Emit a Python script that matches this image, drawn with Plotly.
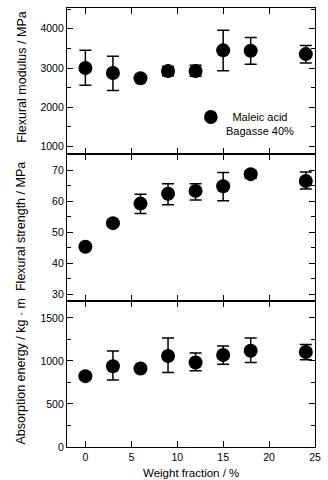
import plotly.graph_objects as go
from plotly.subplots import make_subplots

# Data
weight_fraction = [0, 3, 6, 9, 12, 15, 18, 24]

modulus = [3000, 2875, 2740, 2925, 2925, 3450, 3440, 3355]
modulus_hi = [3450, 3300, 2790, 3040, 3070, 3965, 3780, 3575]
modulus_lo = [2560, 2425, 2690, 2805, 2790, 2930, 3095, 3125]

strength = [45.4, 53.0, 59.3, 62.5, 63.4, 64.9, 68.8, 66.6]
strength_hi = [46.0, 53.8, 62.3, 65.7, 65.7, 69.3, 69.9, 69.5]
strength_lo = [44.8, 52.2, 56.1, 58.9, 60.5, 60.2, 67.5, 64.0]

energy = [823, 938, 912, 1058, 981, 1069, 1119, 1104]
energy_hi = [850, 1115, 940, 1265, 1092, 1173, 1265, 1192]
energy_lo = [795, 777, 885, 865, 885, 962, 981, 1015]

x_ticks = [0, 5, 10, 15, 20, 25]

FONT = "Liberation Sans, Arial, sans-serif"

fig = make_subplots(rows=3, cols=1, shared_xaxes=True, vertical_spacing=0)

def add(vals, hi, lo, row):
    fig.add_trace(go.Scatter(
        x=weight_fraction, y=vals, mode="markers",
        marker=dict(color="black", size=14),
        error_y=dict(type="data", symmetric=False,
                     array=[h - v for h, v in zip(hi, vals)],
                     arrayminus=[v - l for v, l in zip(vals, lo)],
                     color="black", thickness=1.5, width=6),
        showlegend=False, cliponaxis=False), row=row, col=1)

add(modulus, modulus_hi, modulus_lo, 1)
add(strength, strength_hi, strength_lo, 2)
add(energy, energy_hi, energy_lo, 3)

axis_common = dict(showline=True, linecolor="black", linewidth=1.3, mirror="allticks",
                   ticks="inside", ticklen=6, tickwidth=1.3, tickcolor="black",
                   showgrid=False, zeroline=False, ticklabeloverflow="allow",
                   tickfont=dict(family=FONT, size=10.5, color="black"))

for r in (1, 2, 3):
    fig.update_xaxes(range=[-2, 25], tickvals=x_ticks, row=r, col=1, **axis_common)

fig.update_yaxes(range=[800, 4530], dtick=1000, tick0=0,
                 minor=dict(dtick=500, ticks="inside", ticklen=3.5, tickcolor="black", tickwidth=1.2),
                 row=1, col=1, **axis_common)
fig.update_yaxes(range=[28, 75.2], dtick=10, tick0=0,
                 minor=dict(dtick=5, ticks="inside", ticklen=3.5, tickcolor="black", tickwidth=1.2),
                 row=2, col=1, **axis_common)
fig.update_yaxes(range=[0, 1700], dtick=500, tick0=0,
                 minor=dict(dtick=250, ticks="inside", ticklen=3.5, tickcolor="black", tickwidth=1.2),
                 row=3, col=1, **axis_common)

# x-axis title
fig.add_annotation(text="Weight fraction / %", xref="x3 domain", yref="paper",
                   x=0.5, y=-0.059, xanchor="center", yanchor="middle", showarrow=False,
                   font=dict(family=FONT, size=11.5, color="black"))

# y-axis titles as annotations (uniform x position)
titles = [("Flexural modulus / MPa", "y domain", 0.525),
          ("Flexural strength / MPa", "y2 domain", 0.504),
          ("Absorption energy / kg · m", "y3 domain", 0.516)]
for text, yref, yy in titles:
    fig.add_annotation(text=text, xref="paper", yref=yref, x=-0.185, y=yy,
                       xanchor="center", yanchor="middle", textangle=-90, showarrow=False,
                       font=dict(family=FONT, size=12.5, color="black"))

# legend-like label
fig.add_shape(type="circle", xref="x domain", yref="y domain",
              x0=0.58 - 7/254, x1=0.58 + 7/254, y0=0.255 - 7/146, y1=0.255 + 7/146,
              fillcolor="black", line=dict(color="black", width=0))
fig.add_annotation(text="Maleic acid<br>Bagasse 40%", xref="x domain", yref="y domain",
                   x=0.78, y=0.205, xanchor="center", yanchor="middle", align="center",
                   showarrow=False, font=dict(family=FONT, size=11, color="black"))

fig.update_layout(width=328, height=480, margin=dict(l=67, r=7, t=8, b=33),
                  plot_bgcolor="white", paper_bgcolor="white",
                  font=dict(family=FONT, color="black"))

fig.write_html("out.html", config={"displayModeBar": False},
               post_script="document.body.style.margin='0';document.body.style.overflow='hidden';")
